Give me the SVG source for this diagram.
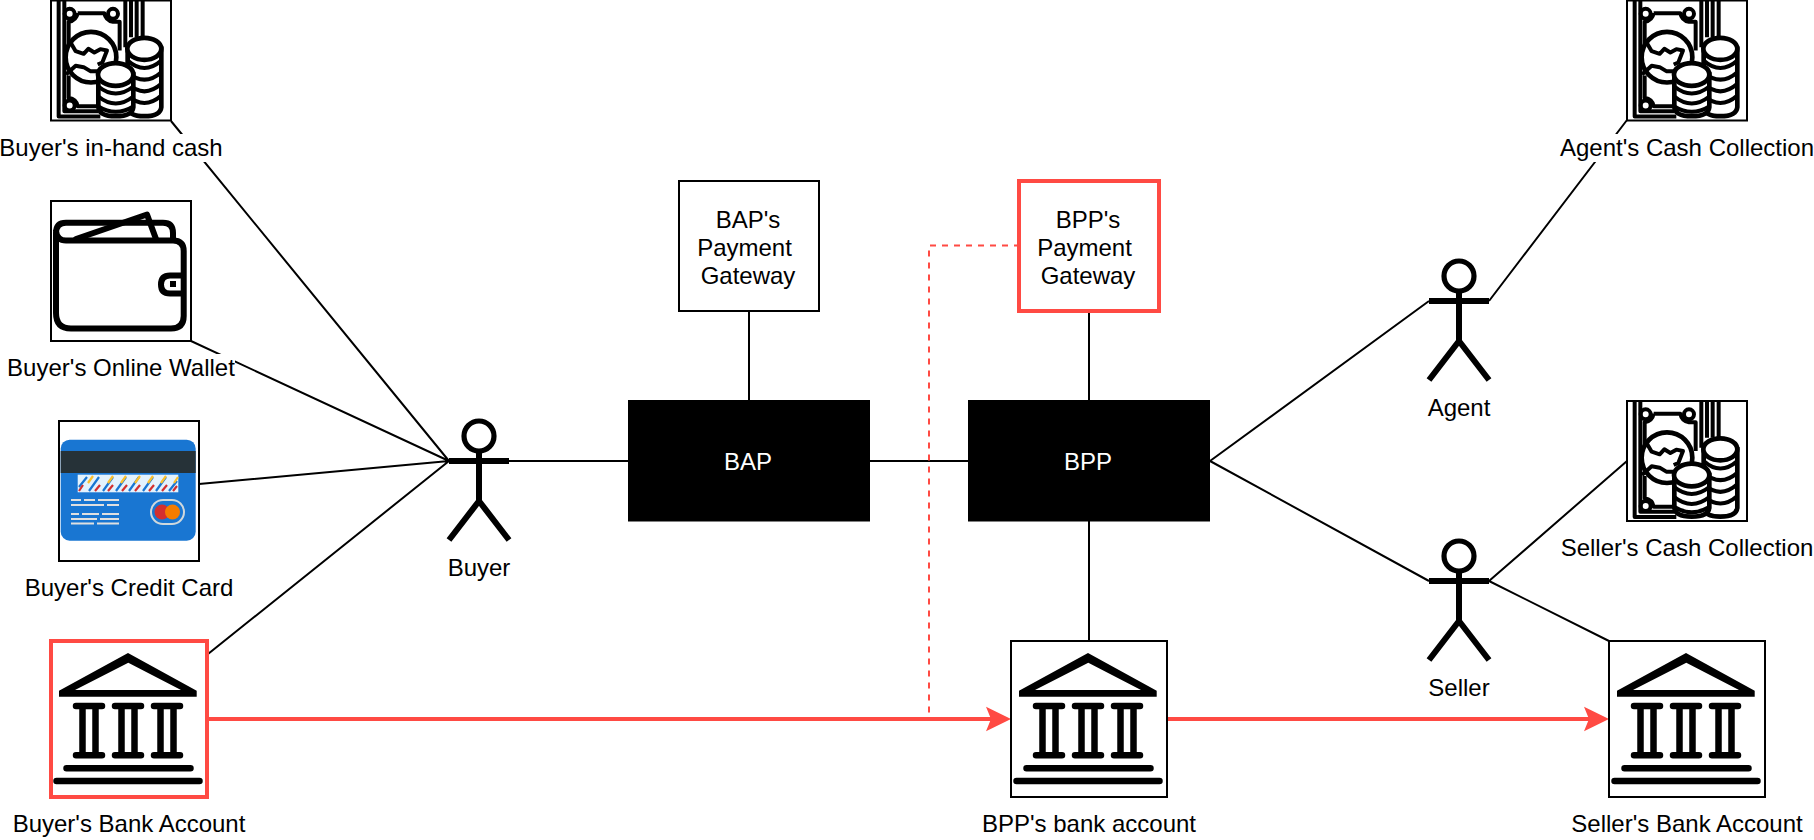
<svg xmlns="http://www.w3.org/2000/svg" width="1814" height="840" viewBox="0 0 1814 840">
<style>
text{font-family:"Liberation Sans",Arial,sans-serif;font-size:24px;fill:#000;text-anchor:middle}
.wt{fill:#fff}
.box{fill:#fff;stroke:#000;stroke-width:2}
.redbox{fill:#fff;stroke:#ff4a43;stroke-width:4}
.solid{fill:#000;stroke:none}
.conn{fill:none;stroke:#000;stroke-width:2}
.red{fill:none;stroke:#ff4a43;stroke-width:4}
.dash{fill:none;stroke:#ff4a43;stroke-width:2;stroke-dasharray:6 6}
.actor{fill:none;stroke:#000;stroke-width:6}
.lbl{fill:#fff;stroke:none}
.ic{fill:none;stroke:#000;stroke-linecap:round;stroke-linejoin:round}
.mon{fill:none;stroke:#000;stroke-width:12;stroke-linejoin:round}
.coin{fill:#fff;stroke:#000;stroke-width:14}
</style>
<defs>
<marker id="arrow" markerUnits="userSpaceOnUse" markerWidth="26" markerHeight="26" refX="15" refY="13" orient="auto">
<path d="M0 .7L25 13L0 25.3L5 13Z" fill="#ff4a43"/>
</marker>
<g id="actor" class="actor">
<circle cx="30" cy="15" r="15" stroke-width="5.200"/>
<path d="M30 30V80M0 40H60M30 80L0 119M30 80L60 119"/>
</g>
<g id="bank">
<path fill-rule="evenodd" d="M77 12L145.700 49.700V55.700H8V49.700ZM77.300 21.700L24 49H130Z" fill="#000"/>
<g class="ic" stroke-width="6.500">
<path d="M25 65H51M64 65H90M103 65H129M25 114.300H51M64 114.300H90M103 114.300H129"/>
<path d="M15.500 127.300H139.500M5.500 140H148.500"/>
</g>
<path d="M31.500 65V114.300M44.500 65V114.300M70.500 65V114.300M83.500 65V114.300M109.500 65V114.300M122.500 65V114.300" fill="none" stroke="#000" stroke-width="6.500"/>
</g>
<g id="money" transform="scale(.3333) translate(-152 0)">
<path class="mon" d="M175 0V348H300M192 0V332H295M375 0V140M392 0V110M409 0V110M427 0V110"/>
<path class="mon" d="M232 38H312Q316 60 338 64H358V150M205 150V64Q228 60 232 38M205 225V292Q228 296 232 317H295"/>
<circle class="mon" cx="208" cy="40" r="15"/>
<circle class="mon" cx="338" cy="40" r="15"/>
<circle class="mon" cx="208" cy="315" r="15"/>
<circle cx="272" cy="170" r="76" fill="#fff" stroke="#000" stroke-width="14"/>
<path class="mon" d="M212 128L226 152L250 160L264 145L282 156L300 146L320 150L306 186L292 192M197 222L226 196L250 200L270 212L295 212"/>
<path class="coin" d="M382 145V320Q385 347 432 347Q480 347 483 320V145Z"/>
<ellipse class="coin" cx="432" cy="145" rx="51" ry="33"/>
<path class="mon" d="M382 180Q432 225 483 180M382 215Q432 260 483 215M382 250Q432 295 483 250M382 285Q432 330 483 285"/>
<path class="coin" d="M294 222V320Q297 347 346 347Q396 347 399 320V222Z"/>
<ellipse class="coin" cx="346" cy="222" rx="53" ry="34"/>
<path class="mon" d="M294 258Q346 300 399 258M294 288Q346 330 399 288M294 318Q346 350 399 318"/>
</g>
</defs>

<g id="connectors">
<path class="conn" d="M171 121L449 461M191 341L449 461M199 484L449 461M208 654L449 461"/>
<path class="conn" d="M509 461H628M749 311V400M870 461H968M1089 311V400M1089 521V641"/>
<path class="conn" d="M1210 461L1429 301M1210 461L1429 581M1489 301L1627 120M1489 581L1627 461M1489 581L1609 641"/>
<path class="dash" d="M1020 245.500H929V715"/>
<path class="red" marker-end="url(#arrow)" d="M208 719H1001"/>
<path class="red" marker-end="url(#arrow)" d="M1167 719H1599"/>
</g>

<g id="buyer-cash">
<rect class="box" x="51" y="0.500" width="120" height="120"/>
<use href="#money" x="51" y="0.500"/>
<rect class="lbl" x="0" y="134" width="223" height="28"/>
<text x="111" y="156">Buyer's in-hand cash</text>
</g>
<g id="buyer-wallet">
<rect class="box" x="51" y="201" width="140" height="140"/>
<g transform="translate(51 201)">
<path class="ic" stroke-width="6" d="M15 39.500H122Q132.700 39.500 132.700 50V115Q132.700 127.500 120 127.500H20Q5 127.500 5 112V32Q5 21.700 15 21.700H112Q122 21.700 122 32V39.500M5 30Q6 39.500 15 39.500"/>
<path class="ic" stroke-width="6" d="M25 38L96 13.500L105 38M132 74.500H119Q110 74.500 110 83.500Q110 92.500 119 92.500H132"/>
<rect x="119" y="80" width="6" height="6" fill="#000"/>
</g>
<rect class="lbl" x="7" y="354" width="228" height="28"/>
<text x="121" y="376">Buyer's Online Wallet</text>
</g>
<g id="buyer-card">
<rect class="box" x="59" y="421" width="140" height="140"/>
<g transform="translate(59 421)">
<rect x="1.700" y="18.700" width="135" height="101" rx="9" fill="#1976d2"/>
<rect x="1.700" y="30" width="135" height="22" fill="#263238"/>
<rect x="18.700" y="53.700" width="100.600" height="17.600" fill="#e3f2fd"/>
<path fill="none" stroke="#1976d2" stroke-width="2.200" d="M20 66L28 56M30 70L40 56M44 70L54 56M57 70L67 56M70 70L80 56M84 70L94 56M97 70L107 56M110 70L118 60"/>
<path fill="none" stroke="#fbc02d" stroke-width="2.200" d="M29 62L34 55M49 62L54 55M62 62L67 55M76 62L81 55M89 62L94 55M102 62L107 55M115 62L119 56"/>
<path fill="none" stroke="#d32f2f" stroke-width="2.200" d="M20 70L24 64M36 70L41 64M49 70L54 64M63 70L68 64M76 70L81 64M90 70L95 64M103 70L108 64M114 70L118 65"/>
<path fill="none" stroke="#e0e0e0" stroke-width="2" d="M12 79H22M25 79H36M39 79H60M12 84H45M48 84H60M12 93H20M23 93H40M43 93H60M12 98H38M41 98H60M12 102.500H35M38 102.500H60"/>
<rect x="92" y="79" width="33" height="24" rx="12" fill="#1976d2" stroke="#cfd8dc" stroke-width="2"/>
<circle cx="103" cy="91" r="7.500" fill="#d32f2f"/>
<circle cx="113.500" cy="91" r="7.500" fill="#f57c00"/>
</g>
<text x="129" y="596">Buyer's Credit Card</text>
</g>
<g id="buyer-bank">
<rect class="redbox" x="51" y="641" width="156" height="156"/>
<use href="#bank" x="51" y="641"/>
<text x="129" y="832">Buyer's Bank Account</text>
</g>
<g id="buyer">
<use href="#actor" x="449" y="421"/>
<text x="479" y="576">Buyer</text>
</g>
<g id="bap">
<rect class="solid" x="628" y="400" width="242" height="121.500"/>
<text class="wt" x="748" y="470">BAP</text>
</g>
<g id="bap-gateway">
<rect class="box" x="679" y="181" width="140" height="130"/>
<text x="748" y="228">BAP's</text>
<text x="744.500" y="256">Payment</text>
<text x="748" y="284">Gateway</text>
</g>
<g id="bpp">
<rect class="solid" x="968" y="400" width="242" height="121.500"/>
<text class="wt" x="1088" y="470">BPP</text>
</g>
<g id="bpp-gateway">
<rect class="redbox" x="1019" y="181" width="140" height="130"/>
<text x="1088" y="228">BPP's</text>
<text x="1084.500" y="256">Payment</text>
<text x="1088" y="284">Gateway</text>
</g>
<g id="bpp-bank">
<rect class="box" x="1011" y="641" width="156" height="156"/>
<use href="#bank" x="1011" y="641"/>
<text x="1089" y="832">BPP's bank account</text>
</g>
<g id="agent">
<use href="#actor" x="1429" y="261"/>
<text x="1459" y="416">Agent</text>
</g>
<g id="seller">
<use href="#actor" x="1429" y="541"/>
<text x="1459" y="696">Seller</text>
</g>
<g id="agent-cash">
<rect class="box" x="1627" y="0.500" width="120" height="120"/>
<use href="#money" x="1627" y="0.500"/>
<rect class="lbl" x="1560" y="134" width="254" height="28"/>
<text x="1687" y="156">Agent's Cash Collection</text>
</g>
<g id="seller-cash">
<rect class="box" x="1627" y="401" width="120" height="120"/>
<use href="#money" x="1627" y="401"/>
<text x="1687" y="556">Seller's Cash Collection</text>
</g>
<g id="seller-bank">
<rect class="box" x="1609" y="641" width="156" height="156"/>
<use href="#bank" x="1609" y="641"/>
<text x="1687" y="832">Seller's Bank Account</text>
</g>
</svg>
